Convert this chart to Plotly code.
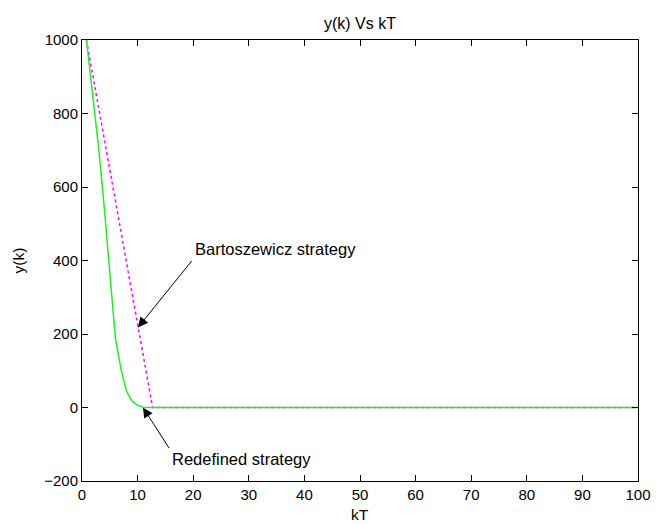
import plotly.graph_objects as go

# Data
green_x = [0.8, 1.5, 2, 3, 4, 5, 5.5, 6, 7, 8, 9, 10, 11, 12, 100]
green_y = [1000, 910, 835, 705, 545, 360, 265, 190, 105, 44, 18, 6, 1, 0, 0]

magenta_x = [0.8, 12.7, 100]
magenta_y = [1000, 0, 0]

x_ticks = [0, 10, 20, 30, 40, 50, 60, 70, 80, 90, 100]
y_ticks = [-200, 0, 200, 400, 600, 800, 1000]

FONT = "Liberation Sans, Arial, sans-serif"

fig = go.Figure()
fig.add_trace(go.Scatter(x=magenta_x, y=magenta_y, mode="lines",
                         line=dict(color="#FF00FF", width=1.5, dash="3px,3px"),
                         showlegend=False))
fig.add_trace(go.Scatter(x=green_x, y=green_y, mode="lines",
                         line=dict(color="#22EE22", width=1.5),
                         showlegend=False))

axis_common = dict(showline=True, linecolor="black", linewidth=1, mirror="ticks",
                   ticks="inside", ticklen=6, tickcolor="black", tickwidth=1,
                   showgrid=False, zeroline=False,
                   tickfont=dict(family=FONT, size=15, color="black"))

fig.update_xaxes(range=[0, 100], tickvals=x_ticks, **axis_common)
fig.update_yaxes(range=[-200, 1000], tickvals=y_ticks, **axis_common)

annotations = [
    # title
    dict(text="y(k) Vs kT", xref="paper", yref="paper", x=0.5, y=1, yshift=17,
         xanchor="center", yanchor="middle", showarrow=False,
         font=dict(family=FONT, size=16, color="black")),
    # x label
    dict(text="kT", xref="paper", yref="paper", x=0.5, y=0, yshift=-33,
         xanchor="center", yanchor="middle", showarrow=False,
         font=dict(family=FONT, size=15.5, color="black")),
    # y label
    dict(text="y(k)", xref="paper", yref="paper", x=0, y=0.5, xshift=-64,
         xanchor="center", yanchor="middle", textangle=-90, showarrow=False,
         font=dict(family=FONT, size=15.5, color="black")),
    # Bartoszewicz text + arrow
    dict(text="Bartoszewicz strategy", x=20, y=432, xanchor="left", yanchor="middle",
         showarrow=False, font=dict(family=FONT, size=16.5, color="black")),
    dict(text="", x=10.07, y=218, ax=55, ay=-68, showarrow=True,
         arrowhead=2, arrowsize=2, arrowwidth=1, arrowcolor="black"),
    # Redefined text + arrow
    dict(text="Redefined strategy", x=15.8, y=-140, xanchor="left", yanchor="middle",
         showarrow=False, font=dict(family=FONT, size=16.5, color="black")),
    dict(text="", x=10.97, y=0, ax=27, ay=42, showarrow=True,
         arrowhead=2, arrowsize=2, arrowwidth=1, arrowcolor="black"),
]

# page body has an 8px default margin, so the figure is shrunk by 8px
fig.update_layout(width=654, height=516,
                  margin=dict(l=74, r=24, t=32, b=43),
                  paper_bgcolor="white", plot_bgcolor="white",
                  annotations=annotations, showlegend=False)

fig.write_html("out.html")
